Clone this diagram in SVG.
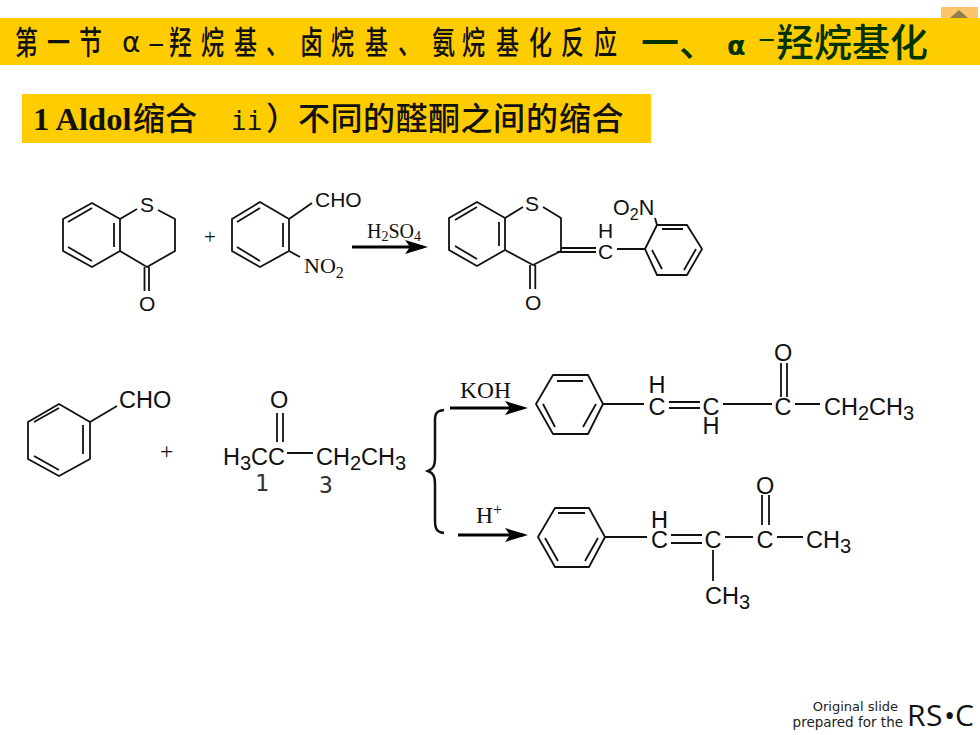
<svg xmlns="http://www.w3.org/2000/svg" width="980" height="735" viewBox="0 0 980 735">
<style>
.b{fill:none;stroke:#111;stroke-width:1.8;stroke-linejoin:round}
.a{font-family:"Liberation Sans",Arial,sans-serif;font-size:21px;fill:#111}
.s{font-size:15px}
.L{font-size:23.500px}
.L .s{font-size:20px}
.t{font-family:"Liberation Serif","Times New Roman",serif;font-size:23.500px;fill:#111}
.ar{fill:none;stroke:#000;stroke-width:3;marker-end:url(#h)}
.cj{font-family:"Noto Sans CJK SC",sans-serif}
.n{font-family:"DejaVu Sans Mono",monospace;font-size:23px;fill:#333}
</style>
<defs><marker id="h" markerUnits="userSpaceOnUse" markerWidth="24" markerHeight="14" refX="18" refY="7" orient="auto"><path d="M0 0L23 7L0 14L5 7Z" fill="#000"/></marker></defs>
<rect width="980" height="735" fill="#fff"/>
<g id="corner"><rect x="941" y="7" width="37" height="12" fill="#fbc56b"/><path d="M950 18L959 10L968 18Z" fill="#8f7f50"/></g>
<g id="title"><rect x="0" y="18" width="980" height="47" fill="#ffcc00"/>
<text class="cj" transform="scale(.72,1)" y="54" font-size="32" font-weight="500" fill="#111" x="20.800 65.300 109.700">第一节</text>
<text x="122" y="52" font-family="DejaVu Sans,sans-serif" font-size="28" fill="#111">α</text>
<text transform="translate(147,51) scale(2.300,1)" font-family="Liberation Sans,sans-serif" font-size="24" fill="#111">-</text>
<text class="cj" transform="scale(.72,1)" y="54" font-size="32" font-weight="500" fill="#111" x="234.700 279.200 325 369.400 416.700 459.700 506.900 552.800 600 641.700 688.900 734.700 779.200 825">羟烷基、卤烷基、氨烷基化反应</text>
<text class="cj" y="56" font-size="38" font-weight="500" fill="#003300" x="641 679">一、</text>
<text x="727" y="55" font-family="DejaVu Sans,sans-serif" font-weight="700" font-size="27" fill="#003300">α</text>
<text transform="translate(757,46) scale(2.400,1)" font-family="Liberation Sans,sans-serif" font-size="24" fill="#003300">-</text>
<text class="cj" y="56" font-size="38" font-weight="500" fill="#003300" x="776 814 852 890">羟烷基化</text></g>
<g id="subtitle"><rect x="22" y="94" width="629" height="49" fill="#ffcc00"/>
<text x="33" y="130" font-family="Liberation Serif,serif" font-weight="700" font-size="32.500" fill="#111">1 Aldol</text>
<text class="cj" x="133" y="130" font-size="32" font-weight="500" fill="#111">缩合</text>
<text x="231" y="130" font-family="DejaVu Sans Mono,monospace" font-size="26" fill="#111">ii</text>
<text class="cj" y="130" font-size="32" font-weight="500" fill="#111" x="266 298 330.500 363 395.500 428 460.500 493 526 559 591.500">）不同的醛酮之间的缩合</text></g>
<g id="connectors">
<path class="ar" d="M352 247H423"/>
<path class="ar" d="M450 408H523"/>
<path class="ar" d="M458 535H523"/>
<path d="M444 410C434 411 435 416 435 424V458C435 466 433 469 428 471C433 473 435 476 435 484V520C435 528 436 532 444 533" fill="none" stroke="#111" stroke-width="2.500"/>
</g>
<g id="thiochromanone"><path class="b" d="M92 203L120 219V251L92 267L63 251V219ZM68 222L92 208M114 223V247M68 247L92 261"/><path class="b" d="M120 219L137 209M158 210L175 219V251L147 267L120 251M144.500 267V291M149 267V291"/><text class="a" x="140" y="212">S</text><text class="a" x="139" y="311">O</text></g>
<text id="plus1" class="t" style="font-size:21px" x="204" y="244">+</text>
<g id="nitrobenzaldehyde"><path class="b" d="M260 202L289 219V251L260 267L232 251V219ZM237 222L260 208M283 223V247M237 247L260 261M289 219L312 203M289 251L300 257"/><text class="a" x="315" y="207">CHO</text><text class="t" style="font-size:22px" x="304" y="273">NO<tspan style="font-size:16px" dy="5">2</tspan></text></g>
<text id="h2so4" class="t" style="font-size:20px" x="367" y="238">H<tspan style="font-size:14px" dy="3">2</tspan><tspan dy="-3">SO</tspan><tspan style="font-size:14px" dy="3">4</tspan></text>
<g id="product1"><path class="b" d="M477 202L505 218V250L477 266L449 250V218ZM455 220L477 207M499 222V246M455 246L477 259"/><path class="b" d="M505 218L523 207M543 207L561 218V251L533 265L505 250M530 265V289M535.300 265V289M561 248H596M557 252H596M617 249H645L657 225H687L702 249L687 275H657L645 249M662 229H683M696 249L684 270M662 269L652 250M655 218L657 225"/><text class="a" x="525" y="211">S</text><text class="a" x="525" y="310">O</text><text class="a" x="598" y="259">C</text><text class="a" x="598" y="238">H</text><text class="a" style="font-size:21.500px" x="613" y="215">O<tspan style="font-size:16px" dy="5">2</tspan><tspan dy="-5">N</tspan></text></g>
<g id="benzaldehyde"><path class="b" d="M59 404L90 422V459L59 476L28 459V422ZM34 422L59 408M83 425V454M34 456L59 470M90 422L117 406"/><text class="a L" x="119" y="408">CHO</text></g>
<text id="plus2" class="t" x="160" y="459">+</text>
<g id="butanone"><path class="b" d="M277 413V442M283 413V442M287 453H313"/><text class="a L" x="270" y="408">O</text><text class="a L" x="223" y="465">H<tspan class="s" dy="5">3</tspan><tspan dy="-5">CC</tspan></text><text class="a L" x="316" y="465">CH<tspan class="s" dy="5">2</tspan><tspan dy="-5">CH</tspan><tspan class="s" dy="5">3</tspan></text><text class="n" x="255" y="491">1</text><text class="n" x="319" y="493">3</text></g>
<text id="koh" class="t" x="460" y="398">KOH</text>
<text id="hplus" class="t" x="476" y="523">H<tspan style="font-size:16px" dy="-8">+</tspan></text>
<g id="product2"><path class="b" d="M553 375H588L603 404L588 434H553L536 404ZM557 381H583M596 404L583 427M543 404L555 427M603 404H644M669 402H700M669 408H700M723 404H772M781 363V397M787 363V397M795 404H820"/><text class="a L" x="648.500" y="415">C</text><text class="a L" x="648.500" y="393">H</text><text class="a L" x="702.500" y="415">C</text><text class="a L" x="702.500" y="434">H</text><text class="a L" x="774.500" y="415">C</text><text class="a L" x="774" y="361">O</text><text class="a L" x="824" y="415">CH<tspan class="s" dy="5">2</tspan><tspan dy="-5">CH</tspan><tspan class="s" dy="5">3</tspan></text></g>
<g id="product3"><path class="b" d="M555 508H589L605 537L589 567H555L538 537ZM558 513H585M598 538L585 561M545 538L558 561M605 537H647M671 535H702M671 543H702M725 537H753M762 495V525M769 495V525M777 537H803M713 550V581"/><text class="a L" x="651" y="548">C</text><text class="a L" x="651" y="528">H</text><text class="a L" x="704.500" y="548">C</text><text class="a L" x="756.500" y="548">C</text><text class="a L" x="756" y="494">O</text><text class="a L" x="806" y="548">CH<tspan class="s" dy="5">3</tspan></text><text class="a L" x="705" y="604">CH<tspan class="s" dy="5">3</tspan></text></g>
<g id="rsc"><text x="898" y="711" text-anchor="end" font-family="DejaVu Sans,sans-serif" font-size="13" fill="#222">Original slide</text><text x="903" y="727" text-anchor="end" font-family="DejaVu Sans,sans-serif" font-size="13.500" fill="#222">prepared for the</text><text y="726" font-family="Open Sans,sans-serif" font-size="30" fill="#111" x="907 926 944 955">RS•C</text></g>
</svg>
